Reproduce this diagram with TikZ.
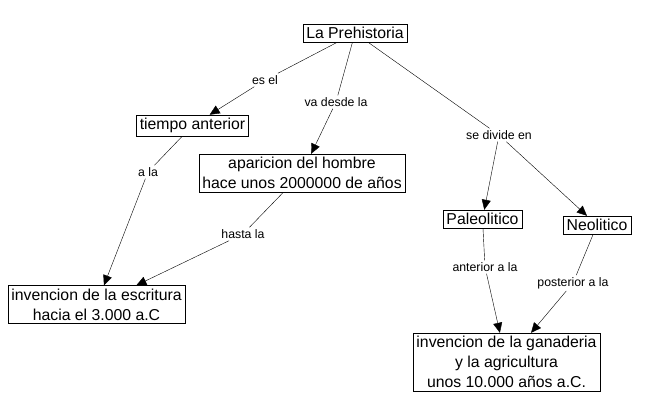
\documentclass[tikz,border=0pt]{standalone}
\usepackage{fontspec}
\setmainfont{Liberation Sans}
\usetikzlibrary{arrows.meta}

\begin{document}
\begin{tikzpicture}[x=1pt, y=-1pt,
    box/.style={draw, thin, align=center, inner xsep=3.5pt, inner ysep=3.2pt,
        font=\fontsize{15.8}{20}\selectfont},
    lbl/.style={inner sep=2pt, font=\fontsize{12.3}{14}\selectfont},
    arr/.style={-{Triangle[length=10pt, width=9pt]}}]
    \useasboundingbox (0,0) rectangle (650,414);

    % concepts
    \node[box] (pre) at (355,33) {La Prehistoria};
    \node[box] (tiempo) at (192.5,125.5) {tiempo anterior};
    \node[box] (hombre) at (302,173) {aparicion del hombre\\hace unos 2000000 de años};
    \node[box] (escritura) at (96.5,304.5) {invencion de la escritura\\hacia el 3.000 a.C};
    \node[box] (paleo) at (482.5,219) {Paleolitico};
    \node[box] (neo) at (597,225) {Neolitico};
    \node[box] (ganaderia) at (506.5,362) {invencion de la ganaderia\\y la agricultura\\unos 10.000 años a.C.};

    % linking words
    \node[lbl] (esel) at (265,80) {es el};
    \node[lbl] (desde) at (336,102) {va desde la};
    \node[lbl] (divide) at (499,135) {se divide en};
    \node[lbl] (ala) at (148,172) {a la};
    \node[lbl] (hasta) at (243,234) {hasta la};
    \node[lbl] (anterior) at (485,267) {anterior a la};
    \node[lbl] (posterior) at (573,283) {posterior a la};

    % links
    \draw (pre) -- (esel);
    \draw[arr] (esel) -- (tiempo);
    \draw (pre) -- (desde);
    \draw[arr] (desde) -- (hombre);
    \draw (pre) -- (divide);
    \draw[arr] (divide) -- (paleo);
    \draw[arr] (divide) -- (neo);
    \draw (tiempo) -- (ala);
    \draw[arr] (ala) -- (escritura);
    \draw (hombre) -- (hasta);
    \draw[arr] (hasta) -- (escritura);
    \draw (paleo) -- (anterior);
    \draw[arr] (anterior) -- (ganaderia);
    \draw (neo) -- (posterior);
    \draw[arr] (posterior) -- (ganaderia);
\end{tikzpicture}
\end{document}
